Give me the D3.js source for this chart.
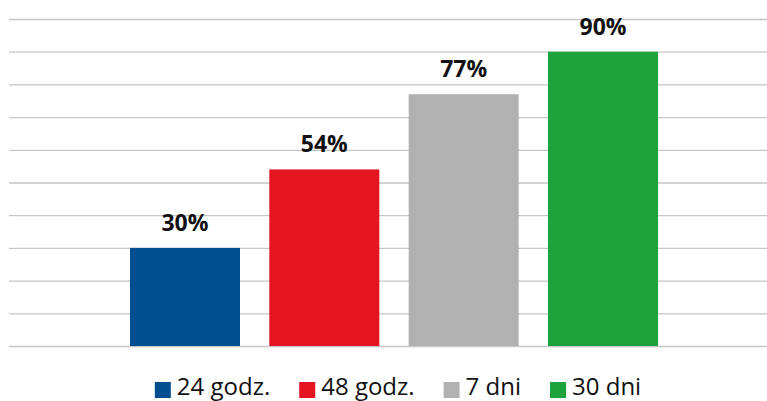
<!DOCTYPE html>
<html>
<head>
<meta charset="utf-8">
<script src="https://cdn.jsdelivr.net/npm/d3@7"></script>
<style>
  body { margin: 0; background: #fff; }
  svg { display: block; font-family: "Open Sans", "Noto Sans", sans-serif; }
</style>
</head>
<body>
<div id="chart"></div>
<script>
const categories = ["24 godz.", "48 godz.", "7 dni", "30 dni"];
const values = [30, 54, 77, 90];
const colors = ["#004f91", "#e41421", "#b1b1b1", "#1ca33b"];
const yTicks = [0, 10, 20, 30, 40, 50, 60, 70, 80, 90, 100];

const width = 767, height = 401;

const svg = d3.select("#chart")
  .append("svg")
  .attr("width", width)
  .attr("height", height);

// scales
const x = d3.scaleBand()
  .domain(categories)
  .range([115.3, 672.7])
  .paddingInner(0.2105)
  .paddingOuter(0.1053);

const y = d3.scaleLinear()
  .domain([0, 100])
  .range([346, 19]);

// gridlines
const grid = svg.append("g")
  .attr("transform", "translate(9,0)")
  .call(d3.axisLeft(y).tickValues(yTicks).tickSize(-(width + 10)).tickFormat(""));
grid.select(".domain").remove();
grid.selectAll(".tick line")
  .attr("stroke", "#c6c6c6")
  .attr("stroke-width", 1.3);

// bars
svg.append("g")
  .selectAll("rect")
  .data(values)
  .join("rect")
  .attr("x", (d, i) => x(categories[i]))
  .attr("y", d => y(d))
  .attr("width", x.bandwidth())
  .attr("height", d => y(0) - y(d))
  .attr("fill", (d, i) => colors[i]);

// value labels
svg.append("g")
  .selectAll("text")
  .data(values)
  .join("text")
  .attr("x", (d, i) => x(categories[i]) + x.bandwidth() / 2)
  .attr("y", d => y(d) - 17)
  .attr("text-anchor", "middle")
  .attr("font-size", 23)
  .attr("font-weight", "bold")
  .attr("fill", "#111")
  .text(d => d + "%");

// legend
const legend = svg.append("g");
const items = legend.selectAll("g")
  .data(categories)
  .join("g");
items.append("rect")
  .attr("width", 16)
  .attr("height", 16)
  .attr("y", 382)
  .attr("fill", (d, i) => colors[i]);
items.append("text")
  .attr("x", 22)
  .attr("y", 395)
  .attr("font-size", 24)
  .attr("fill", "#111")
  .text(d => d);

const gap = 29;
const widths = [];
items.each(function () {
  widths.push(22 + this.querySelector("text").getComputedTextLength());
});
const total = d3.sum(widths) + gap * (widths.length - 1);
let cx = 398 - total / 2;
items.attr("transform", (d, i) => {
  const t = `translate(${cx},0)`;
  cx += widths[i] + gap;
  return t;
});
</script>
</body>
</html>
